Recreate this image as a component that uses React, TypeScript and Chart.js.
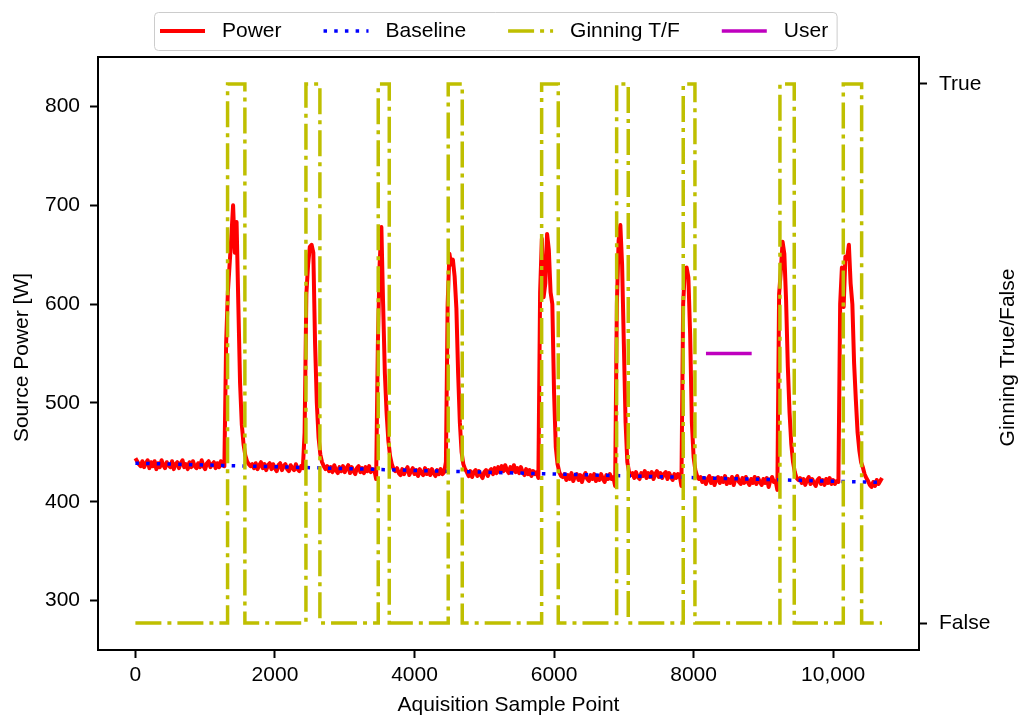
import React, { useEffect, useRef } from 'react';
import { Chart, registerables } from 'chart.js';

Chart.register(...registerables);

// ---------------- data ----------------
const SAMPLE_STEP = 25;

// Power [W], one value every SAMPLE_STEP samples, each segment with its first sample
const powerQuietA = [444, 441, 438, 436, 441, 435, 439, 442, 434, 440,
  436, 441, 433, 439, 435, 442, 437, 434, 440, 437,
  435, 441, 433, 438, 440, 434, 439, 442, 435, 438,
  433, 440, 435, 441, 436, 434, 439, 435, 442, 436,
  433, 439, 441, 435, 438, 440, 434, 439, 435, 441,
  437];
const powerPulse1 = [436, 560, 612, 640, 668, 700, 652, 683, 600, 520, 478, 458, 447, 441, 438, 436];
const powerQuietB = [438, 434, 439, 433, 437, 440, 434, 438, 432, 437,
  439, 433, 438, 434, 431, 437, 439, 432, 436, 438,
  433, 431, 437, 434, 432, 438, 433, 431, 436];
const powerPulse2 = [434, 470, 610, 640, 658, 660, 652, 560, 500, 465, 448, 440, 436, 433];
const powerQuietC = [436, 431, 435, 430, 437, 432, 429, 435, 431, 436,
  430, 434, 437, 429, 435, 431, 428, 434, 436, 430,
  434, 429, 435, 431, 436, 430, 433];
const powerPulse3 = [432, 423, 560, 640, 678, 600, 530, 490, 462, 446, 438, 433, 431];
const powerQuietD = [434, 429, 427, 433, 428, 432, 435, 427, 431, 434,
  428, 432, 426, 433, 429, 427, 434, 428, 432, 427,
  433, 429, 426, 432, 428, 433, 428];
const powerPulse4 = [430, 440, 600, 651, 640, 645, 628, 596, 530, 480, 450, 438, 433, 430];
const powerQuietE = [426, 431, 425, 430, 432, 426, 431, 427, 424, 430,
  432, 426, 431, 433, 428, 434, 429, 435, 430, 436,
  431, 437, 432, 429, 435, 431, 437, 430, 434, 429,
  435, 430, 427, 433, 428, 432, 426, 431, 428];
const powerPulse5 = [430, 424, 612, 666, 607, 621, 671, 655, 612, 600, 510, 455, 438, 430, 426, 425];
const powerQuietF = [428, 422, 427, 423, 429, 421, 426, 428, 422, 427,
  420, 426, 429, 423, 421, 427, 423, 428, 421, 426,
  422, 428, 423, 420, 427, 423, 428, 423];
const powerPulse6 = [425, 416, 600, 664, 680, 640, 560, 480, 440, 430, 427];
const powerQuietG = [429, 424, 430, 425, 423, 429, 426, 431, 424, 429,
  425, 430, 423, 428, 431, 425, 429, 424, 428, 430,
  423, 429, 425, 422, 428, 424, 428];
const powerPulse7 = [427, 416, 600, 636, 637, 627, 570, 480, 445, 432, 426, 423];
const powerQuietH = [425, 420, 424, 418, 423, 426, 419, 424, 417, 423,
  425, 419, 424, 420, 426, 418, 423, 419, 425, 417,
  423, 426, 420, 418, 424, 419, 425, 420, 417, 423,
  419, 425, 418, 424, 420, 417, 423, 419, 424, 415,
  422, 425, 420];
const powerPulse8 = [421, 412, 610, 634, 663, 651, 604, 537, 490, 458, 440, 430, 424, 422];
const powerQuietI = [424, 419, 423, 417, 422, 425, 418, 423, 419, 416,
  422, 424, 418, 422, 417, 423, 419, 424, 418, 422,
  418];
const powerPulse9 = [421, 420, 600, 637, 597, 648, 646, 660, 621, 600, 540, 503, 470, 452, 440, 435, 428, 424];
const powerQuietJ = [421, 417, 415, 420, 416, 422, 418, 421, 424];

const powerSegmentStarts = [0, 1275, 1675, 2400, 2750, 3425, 3750, 4425, 4775, 5750,
  6150, 6850, 7125, 7800, 8100, 9175, 9525, 10050, 10500];
const powerSegments = [powerQuietA, powerPulse1, powerQuietB, powerPulse2, powerQuietC,
  powerPulse3, powerQuietD, powerPulse4, powerQuietE, powerPulse5, powerQuietF,
  powerPulse6, powerQuietG, powerPulse7, powerQuietH, powerPulse8, powerQuietI,
  powerPulse9, powerQuietJ];

// Baseline [W]
const baselineX = [0, 2000, 4000, 6000, 8000, 10700];
const baselineY = [439, 435.4, 431.7, 428.1, 424.4, 419.5];

// Ginning True/False intervals (sample index)
const ginningStart = [1321, 2444, 3480, 4483, 5822, 6897, 7851, 9237, 10145];
const ginningEnd = [1569, 2644, 3638, 4684, 6060, 7063, 8019, 9442, 10408];
const ginningLastSample = 10700;

// User marker
const userX = [8177, 8832];
const userY = [550, 550];

// axes
const xTickValues = [0, 2000, 4000, 6000, 8000, 10000];
const xTickLabels = ['0', '2000', '4000', '6000', '8000', '10,000'];
const yTickValues = [300, 400, 500, 600, 700, 800];
const y2TickValues = [0, 1];
const y2TickLabels = ['False', 'True'];
const X_MIN = -536;
const X_MAX = 11230;
const Y_MIN = 250;
const Y_MAX = 850;
const Y2_MIN = -0.05;
const Y2_MAX = 1.05;

const xTitle = 'Aquisition Sample Point';
const yTitle = 'Source Power [W]';
const y2Title = 'Ginning True/False';
const legendOrder = ['Power', 'Baseline', 'Ginning T/F', 'User'];

// ---------------- styles ----------------
const FONT = '"Liberation Sans", Arial, Helvetica, sans-serif';
const FONT_SIZE = 21;
const W = 1019;
const H = 717;

function buildPower() {
  const pts: { x: number; y: number }[] = [];
  powerSegments.forEach((seg, si) => {
    seg.forEach((v, i) => pts.push({ x: powerSegmentStarts[si] + i * SAMPLE_STEP, y: v }));
  });
  return pts;
}

function buildGinning() {
  const pts: { x: number; y: number }[] = [{ x: 0, y: 0 }];
  ginningStart.forEach((s, i) => {
    pts.push({ x: s, y: 0 }, { x: s, y: 1 }, { x: ginningEnd[i], y: 1 }, { x: ginningEnd[i], y: 0 });
  });
  pts.push({ x: ginningLastSample, y: 0 });
  return pts;
}

const frameLegendPlugin = {
  id: 'frameLegend',
  afterDraw(chart: any) {
    const { ctx, chartArea: a } = chart;
    ctx.save();
    // frame
    ctx.strokeStyle = '#000';
    ctx.lineWidth = 2;
    ctx.setLineDash([]);
    ctx.strokeRect(a.left, a.top, a.right - a.left, a.bottom - a.top);

    // axis titles
    ctx.fillStyle = '#000';
    ctx.font = `${FONT_SIZE}px ${FONT}`;
    ctx.textAlign = 'center';
    ctx.textBaseline = 'middle';
    ctx.fillText(xTitle, (a.left + a.right) / 2, 705);
    const midY = (a.top + a.bottom) / 2;
    ctx.save();
    ctx.translate(22, midY + 4);
    ctx.rotate(-Math.PI / 2);
    ctx.fillText(yTitle, 0, 0);
    ctx.restore();
    ctx.save();
    ctx.translate(1008, midY + 4);
    ctx.rotate(-Math.PI / 2);
    ctx.fillText(y2Title, 0, 0);
    ctx.restore();

    // legend layout (matplotlib-like: handle, pad, text, column spacing)
    const handleLen = 45;
    const textPad = 17;
    const colSpace = 42;
    const ly = 31;
    let cx = 160;
    const items: { ds: any; hx: number; tx: number }[] = [];
    legendOrder.forEach((label) => {
      const ds = chart.data.datasets.find((d: any) => d.label === label);
      if (!ds) return;
      const tx = cx + handleLen + textPad;
      items.push({ ds, hx: cx, tx });
      cx = tx + ctx.measureText(label).width + colSpace;
    });
    const boxRight = cx - colSpace + 9;
    const bx = 154.5, by = 12.5, bh = 38;
    ctx.beginPath();
    (ctx as any).roundRect(bx, by, boxRight - bx, bh, 4);
    ctx.fillStyle = 'rgba(255,255,255,0.8)';
    ctx.fill();
    ctx.strokeStyle = '#cccccc';
    ctx.lineWidth = 1;
    ctx.stroke();

    items.forEach(({ ds, hx, tx }) => {
      ctx.beginPath();
      ctx.setLineDash(ds.borderDash || []);
      ctx.lineWidth = ds.borderWidth;
      ctx.strokeStyle = ds.borderColor;
      ctx.lineCap = 'butt';
      ctx.moveTo(hx, ly);
      ctx.lineTo(hx + handleLen, ly);
      ctx.stroke();
      ctx.setLineDash([]);
      ctx.fillStyle = '#000';
      ctx.textAlign = 'left';
      ctx.textBaseline = 'middle';
      ctx.fillText(ds.label, tx, ly);
    });
    ctx.restore();
  },
};

const tickFont = { family: FONT, size: FONT_SIZE };
const gridOpts = {
  drawOnChartArea: false,
  drawTicks: true,
  tickLength: 8,
  tickWidth: 2,
  tickColor: '#000',
};
const borderOpts = { display: true, color: '#000', width: 2 };

export default function App() {
  const ref = useRef<HTMLCanvasElement>(null);

  useEffect(() => {
    const canvas = ref.current;
    if (!canvas) return;
    const chart = new Chart(canvas, {
      type: 'line',
      data: {
        datasets: [
          {
            label: 'Ginning T/F',
            data: buildGinning(),
            yAxisID: 'y2',
            borderColor: '#bfbf00',
            borderWidth: 3.5,
            borderDash: [26, 6, 4, 6],
            pointRadius: 0,
            tension: 0,
            fill: false,
            order: 0,
          },
          {
            label: 'User',
            data: userX.map((x, i) => ({ x, y: userY[i] })),
            yAxisID: 'y',
            borderColor: '#bf00bf',
            borderWidth: 3.5,
            pointRadius: 0,
            tension: 0,
            fill: false,
            order: 1,
          },
          {
            label: 'Baseline',
            data: baselineX.map((x, i) => ({ x, y: baselineY[i] })),
            yAxisID: 'y',
            borderColor: '#0000ff',
            borderWidth: 3.5,
            borderDash: [3.5, 7.2],
            pointRadius: 0,
            tension: 0,
            fill: false,
            order: 2,
          },
          {
            label: 'Power',
            data: buildPower(),
            yAxisID: 'y',
            borderColor: '#ff0000',
            borderWidth: 4,
            borderJoinStyle: 'round',
            pointRadius: 0,
            tension: 0,
            fill: false,
            order: 3,
          },
        ],
      },
      options: {
        responsive: false,
        animation: false,
        devicePixelRatio: 1,
        layout: { padding: { top: 57, left: 0, right: 0, bottom: 0 } },
        plugins: {
          legend: { display: false },
          tooltip: { enabled: false },
          title: { display: false },
        },
        scales: {
          x: {
            type: 'linear',
            min: X_MIN,
            max: X_MAX,
            afterBuildTicks: (s: any) => {
              s.ticks = xTickValues.map((v) => ({ value: v }));
            },
            afterFit: (s: any) => {
              s.height = 67;
            },
            ticks: {
              autoSkip: false,
              maxRotation: 0,
              color: '#000',
              font: tickFont,
              padding: 5,
              callback: (_v: any, i: number) => xTickLabels[i],
            },
            grid: gridOpts,
            border: borderOpts,
          },
          y: {
            type: 'linear',
            position: 'left',
            min: Y_MIN,
            max: Y_MAX,
            afterBuildTicks: (s: any) => {
              s.ticks = yTickValues.map((v) => ({ value: v }));
            },
            afterFit: (s: any) => {
              s.width = 98;
            },
            ticks: {
              autoSkip: false,
              color: '#000',
              font: tickFont,
              padding: 10,
              callback: (v: any) => String(v),
            },
            grid: gridOpts,
            border: borderOpts,
          },
          y2: {
            type: 'linear',
            position: 'right',
            min: Y2_MIN,
            max: Y2_MAX,
            afterBuildTicks: (s: any) => {
              s.ticks = y2TickValues.map((v) => ({ value: v }));
            },
            afterFit: (s: any) => {
              s.width = 100;
            },
            ticks: {
              autoSkip: false,
              color: '#000',
              font: tickFont,
              padding: 12,
              callback: (_v: any, i: number) => y2TickLabels[i],
            },
            grid: gridOpts,
            border: borderOpts,
          },
        },
      },
      plugins: [frameLegendPlugin],
    } as any);
    return () => chart.destroy();
  }, []);

  return (
    <div style={{ position: 'absolute', left: 0, top: 0, width: W, height: H, background: '#fff' }}>
      <canvas ref={ref} width={W} height={H} style={{ display: 'block', width: W, height: H }} />
    </div>
  );
}
